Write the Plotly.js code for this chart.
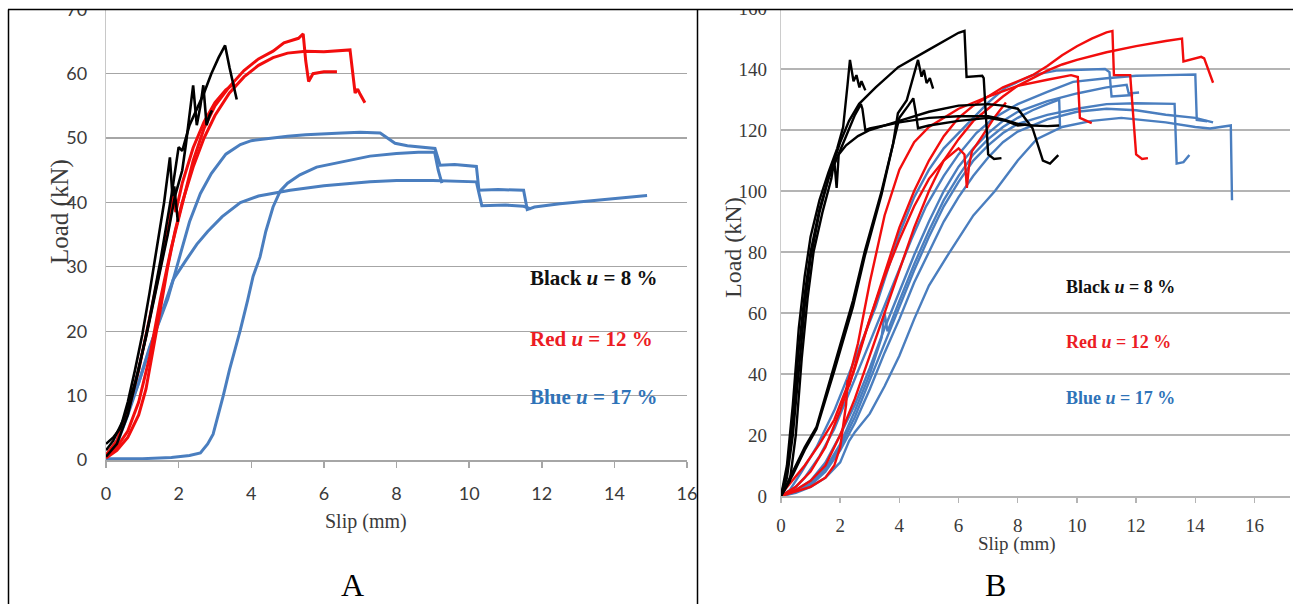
<!DOCTYPE html>
<html>
<head>
<meta charset="utf-8">
<script src="https://cdn.plot.ly/plotly-3.0.1.min.js"></script>
<style>
  html, body { margin: 0; padding: 0; background: #fff; }
  #chart { width: 1293px; height: 604px; }
</style>
</head>
<body>
<div id="chart"></div>
<script>
// ---------------- Panel A data (Slip mm, Load kN) ----------------
const A_K1 = [[0,2.5],[0.2,3.5],[0.4,5],[0.6,9],[0.8,14],[1.0,19.5],[1.2,26],[1.4,33],[1.6,40],[1.76,47],[1.83,41],[1.88,42.5],[1.98,37]];
const A_K2 = [[0,1.5],[0.2,3],[0.5,6.5],[0.8,12],[1.1,19],[1.4,27],[1.7,35],[1.9,41],[2.1,45],[2.2,49],[2.3,54],[2.4,58.2],[2.5,52],[2.6,55],[2.68,58.2],[2.77,52],[2.85,53.5],[2.92,54.3]];
const A_K3 = [[0,0.5],[0.3,2.5],[0.6,7],[0.9,14],[1.2,22],[1.5,31],[1.8,41],[2.0,48.6],[2.1,48],[2.3,52],[2.5,54.5],[2.7,57],[2.9,60],[3.1,62.5],[3.28,64.4],[3.4,61],[3.6,56]];
const A_R1 = [[0,0.3],[0.3,1.5],[0.6,3.5],[0.9,7],[1.1,11],[1.3,17],[1.5,23.5],[1.7,30],[1.9,35.5],[2.1,40],[2.4,45.5],[2.7,50],[3.0,53.5],[3.4,57],[3.8,59.5],[4.2,61.3],[4.6,62.5],[5.0,63.2],[5.5,63.5],[6.0,63.4],[6.4,63.6],[6.72,63.7],[6.86,57],[6.93,57.6],[7.0,56.8],[7.13,55.5]];
const A_R2 = [[0,0.5],[0.3,2],[0.6,4.5],[0.9,9],[1.2,16],[1.5,25],[1.8,33],[2.1,40],[2.4,46.5],[2.7,51.5],[3.0,55],[3.4,58],[3.8,60.5],[4.2,62.3],[4.6,63.5],[4.9,64.8],[5.1,65.2],[5.3,65.5],[5.43,66.2],[5.5,62],[5.58,58.8],[5.7,60],[6.0,60.3],[6.36,60.3]];
const A_R3 = [[0,0.8],[0.3,3],[0.6,7.5],[0.9,14],[1.2,22],[1.5,30],[1.75,37],[1.85,41.5],[1.92,38.5],[2.1,43],[2.4,48.5],[2.7,52.5],[3.0,55.5],[3.3,57.5],[3.55,58.5]];
const A_B1 = [[0,0.3],[0.3,2.5],[0.6,7],[0.9,12],[1.2,17.5],[1.5,22],[1.7,25],[1.9,29],[2.1,33],[2.3,37],[2.6,41.4],[2.9,44.5],[3.3,47.5],[3.7,49],[4.0,49.6],[4.5,50],[5.0,50.3],[5.5,50.5],[6.0,50.7],[6.5,50.8],[7.0,50.9],[7.55,50.8],[7.7,50.2],[7.96,49.2],[8.3,48.8],[8.7,48.6],[9.06,48.4],[9.2,45.8],[9.6,45.9],[10.2,45.6],[10.27,41.9],[10.8,42],[11.5,41.9],[11.6,38.9],[11.8,39.3],[12.5,39.8],[13.2,40.2],[14,40.6],[14.9,41.1]];
const A_B2 = [[0,0.2],[1,0.2],[1.8,0.4],[2.3,0.7],[2.6,1.1],[2.8,2.5],[2.95,4],[3.1,7],[3.23,10],[3.4,14],[3.55,17],[3.7,20.2],[3.9,24.8],[4.05,28.5],[4.24,31.5],[4.4,35.5],[4.6,39.3],[4.8,41.8],[5.0,43],[5.34,44.3],[5.8,45.5],[6.45,46.3],[7.27,47.2],[8,47.6],[8.6,47.8],[9.05,47.8],[9.15,45],[9.25,43]];
const A_B3 = [[0,0.3],[0.3,3],[0.6,7.5],[0.9,12],[1.3,19],[1.6,24],[1.85,28],[2.2,31],[2.5,33.5],[2.8,35.5],[3.2,37.8],[3.7,40],[4.2,41],[5.07,41.9],[6,42.6],[7.27,43.2],[8,43.4],[9,43.4],[9.6,43.3],[10.2,43.2],[10.35,39.5],[11,39.6],[11.5,39.4],[11.7,39]];

// ---------------- Panel B data ----------------
const B_K1 = [[0,0],[0.2,10],[0.4,30],[0.6,55],[0.8,72],[1.0,85],[1.3,97],[1.6,106],[1.9,114],[2.1,121],[2.25,135],[2.33,143],[2.45,136],[2.55,138],[2.65,134],[2.72,136],[2.85,133]];
const B_K2 = [[0,0],[0.2,8],[0.4,25],[0.6,48],[0.8,66],[1.0,80],[1.3,94],[1.6,104],[1.9,111],[2.2,118],[2.5,125],[2.7,128.5],[2.75,127],[2.85,120],[3.0,120.5],[3.5,121.5],[4,122.5],[5,124],[6,124.5],[7,124.5],[7.5,123.5],[8,122],[8.5,121.5],[9,121.3],[9.4,121.5]];
const B_K3 = [[0,0],[0.2,6],[0.4,20],[0.6,42],[0.8,62],[1.0,78],[1.3,93],[1.6,104],[2.0,116],[2.3,123],[2.64,128.6],[3.2,134],[3.96,140.6],[4.97,146.2],[6.0,151.9],[6.2,152.5],[6.27,137.4],[6.8,137.8],[6.85,137],[7.0,112],[7.2,110.5],[7.45,110.8]];
const B_K4 = [[0,0],[0.3,5],[0.5,20],[0.7,45],[0.9,65],[1.1,80],[1.4,93],[1.7,104],[1.8,110],[1.88,101],[1.95,112],[2.2,115],[2.6,118],[3,120],[4,123],[5,126],[6,128],[7,128.5],[7.5,128],[8,127],[8.5,120.6],[8.85,110],[9.09,109],[9.37,111.8]];
const B_K5 = [[0,0],[0.4,8],[0.8,16],[1.2,22.7],[1.8,43],[2.43,64],[2.84,80.6],[2.99,86],[3.4,100],[3.79,115.6],[3.95,125.5],[4.25,129.8],[4.47,137.5],[4.63,143],[4.75,137.5],[4.83,139.7],[4.92,135.4],[5.03,137],[5.14,133.6]];
const B_K6 = [[0,0],[0.4,7],[0.8,15],[1.2,22],[1.8,41],[2.43,62],[2.84,79],[3.4,99],[3.8,116],[4.0,124],[4.3,128],[4.47,130.4],[4.55,126],[4.63,120.6],[5,121.5],[6,123],[7,124],[7.6,123],[8,121.5],[8.3,121.8]];
const B_R1 = [[0,0],[0.5,3],[1,8],[1.5,16],[2,28],[2.5,42],[3,58],[3.5,73],[4,88],[4.5,100],[5,110],[5.5,118],[6,124],[6.5,128],[7,131],[7.5,134],[8,136],[8.5,138],[9,141],[9.5,144.5],[10,147.5],[10.5,150],[11,152],[11.2,152.5],[11.25,138],[11.8,138],[12,112],[12.2,110.5],[12.4,110.8]];
const B_R2 = [[0,0],[0.5,2],[1,5],[1.5,10],[2,20],[2.5,32],[3,46],[3.5,60],[4,74],[4.5,88],[5,100],[5.5,110],[6,117],[6.5,123],[7,127],[7.5,131],[8,134.5],[8.5,137],[9,139.5],[9.5,141.5],[10,143],[11,145.5],[12,147.5],[13,149.2],[13.55,150],[13.6,142.5],[14.2,144],[14.3,143.5],[14.6,135.5]];
const B_R3 = [[0,0.5],[0.3,4],[0.8,10],[1.3,17],[1.8,25],[2.2,35],[2.6,50],[3.0,70],[3.5,92],[4,107],[4.5,116],[5,121],[6,127],[7,131],[8,134.5],[9,136.5],[9.8,138],[10.03,137.4],[10.1,124],[10.5,122.3]];
const B_R4 = [[0,0],[0.5,1.5],[1,3],[1.5,6],[1.8,10],[2.0,16],[2.2,30],[2.25,38],[2.3,36],[2.6,46],[3,58],[3.5,72],[4,84],[4.5,95],[5,104],[5.5,110],[6.0,114],[6.2,112],[6.28,101],[6.35,108],[6.45,113],[6.8,118],[7.2,124],[7.6,129]];
const B_B1 = [[0,0],[0.3,2],[0.7,8],[1.2,16],[1.8,28],[2.3,40],[2.8,52],[3.2,62],[3.6,74],[4.0,86],[4.5,98],[5.0,107],[5.5,114],[6.0,119],[6.5,124],[7.0,129],[7.6,134],[8.5,138],[9.3,139.5],[10.2,139.8],[10.95,140],[11.1,139],[11.17,131],[11.9,131.5]];
const B_B2 = [[0,0],[0.4,2],[0.8,6],[1.3,13],[1.8,22],[2.4,36],[2.9,48],[3.4,60],[3.9,72],[4.4,84],[4.9,95],[5.5,105],[6.0,112],[6.6,119],[7.2,124],[8,128.5],[9,132.5],[9.87,135.8],[11,137],[12,137.8],[13,138],[14.0,138.2],[14.05,123.3],[14.4,122.9]];
const B_B3 = [[0,0],[0.5,2],[1,5],[1.5,11],[2,20],[2.5,30],[3,42],[3.5,55],[4,67],[4.5,79],[5,90],[5.5,100],[6,108],[6.5,114],[7,119],[7.5,123],[8,126],[9,129.5],[10,132],[11,134],[11.68,134.8],[11.75,132],[12.1,132.3]];
const B_B4 = [[0,0],[0.5,1.5],[1,4],[1.5,9],[2,16],[2.5,26],[3,38],[3.5,50],[4,62],[4.5,74],[5,85],[5.5,95],[6,103],[6.5,110],[7,115],[7.5,119],[8,122],[9,125],[10,127],[11,128.5],[12,128.8],[13.3,128.6],[13.37,109],[13.6,109.5],[13.8,111.8]];
const B_B5 = [[0,0],[0.5,1.5],[1,4],[1.5,9],[2,17],[2.5,28],[3,40],[3.4,52],[3.5,60],[3.6,54],[4,64],[4.5,76],[5,87],[5.5,97],[6,105],[6.5,112],[7,117],[7.5,121],[8,124],[8.5,126.5],[9,128.5],[9.4,130],[9.43,120.6]];
const B_B6 = [[0,0],[0.5,1],[1,3],[1.5,6],[2,11],[2.3,18],[2.5,21],[3,27],[3.5,36],[4,46],[4.5,58],[5,69],[5.7,80],[6.5,92],[7.23,100],[8,110],[8.64,117],[9.5,121],[10.5,123],[11.5,124],[12.5,123],[13,122.5],[14,121],[14.5,120.5],[15.2,121.5],[15.24,97]];
const B_B7 = [[0,0],[0.4,1],[1,3.5],[1.5,8],[2,15],[2.5,24],[3,35],[3.5,47],[4,58],[4.5,70],[5,80],[5.5,90],[6,98],[6.5,105],[7,111],[7.5,116],[8,119.5],[9,123.5],[10,126],[11,127],[12,126.5],[13,125],[14,124],[14.4,123],[14.6,122.5]];

const xTicksA = [0,2,4,6,8,10,12,14,16];
const yTicksA = [0,10,20,30,40,50,60,70];
const xTicksB = [0,2,4,6,8,10,12,14,16];
const yTicksB = [0,20,40,60,80,100,120,140,160];

const BLACK = '#000000', RED = '#f20d0d', BLUE = '#4a7ebf';

function tr(pts, color, width, xa, ya) {
  return {
    x: pts.map(p => p[0]), y: pts.map(p => p[1]),
    type: 'scatter', mode: 'lines', xaxis: xa, yaxis: ya,
    line: {color: color, width: width}, hoverinfo: 'skip', showlegend: false
  };
}

const W = 1293, H = 604;
const px = v => v / W, py = v => 1 - v / H;

const traces = [];
[A_B1, A_B2, A_B3].forEach(d => traces.push(tr(d, BLUE, 3, 'x', 'y')));
[A_R1, A_R2, A_R3].forEach(d => traces.push(tr(d, RED, 3, 'x', 'y')));
[A_K1, A_K2, A_K3].forEach(d => traces.push(tr(d, BLACK, 2.6, 'x', 'y')));
[B_B1, B_B2, B_B3, B_B4, B_B5, B_B6, B_B7].forEach(d => traces.push(tr(d, BLUE, 2.4, 'x2', 'y2')));
[B_R1, B_R2, B_R3, B_R4].forEach(d => traces.push(tr(d, RED, 2.4, 'x2', 'y2')));
[B_K1, B_K2, B_K3, B_K4, B_K5, B_K6].forEach(d => traces.push(tr(d, BLACK, 2.4, 'x2', 'y2')));

const sansTick = {family: 'Lato, "Liberation Sans Narrow", sans-serif', size: 18, color: '#3a3a3a'};
const serifTick = {family: '"Liberation Serif", "DejaVu Serif", serif', size: 19, color: '#3a3a3a'};
const serif = '"Liberation Serif", "DejaVu Serif", serif';

const layout = {
  width: W, height: H,
  margin: {l: 0, r: 0, t: 0, b: 0, pad: 0},
  paper_bgcolor: '#ffffff', plot_bgcolor: 'rgba(0,0,0,0)',
  showlegend: false,
  xaxis: {
    domain: [px(106), px(687)], range: [0, 16], tickvals: xTicksA, anchor: 'y',
    showgrid: false, zeroline: false, showline: true, linecolor: '#a6a6a6', linewidth: 1.5,
    ticks: 'outside', ticklen: 6, tickcolor: '#a6a6a6', tickwidth: 1.5,
    tickfont: sansTick, ticklabelstandoff: 11, ticklabeloverflow: 'allow'
  },
  yaxis: {
    domain: [py(460), py(9.2)], range: [0, 70.02], tickvals: yTicksA, anchor: 'x',
    showgrid: true, gridcolor: '#a6a6a6', gridwidth: 1.2, zeroline: false,
    showline: true, linecolor: '#c8c8c8', linewidth: 1.2,
    ticks: '', tickfont: sansTick, ticklabelstandoff: 14, ticklabeloverflow: 'allow'
  },
  xaxis2: {
    domain: [px(781), px(1290)], range: [0, 17.2], tickvals: xTicksB, anchor: 'y2',
    showgrid: false, zeroline: false, showline: true, linecolor: '#b4b4b4', linewidth: 1.5,
    ticks: 'outside', ticklen: 5, tickcolor: '#b4b4b4', tickwidth: 1.5,
    tickfont: serifTick, ticklabelstandoff: 7, ticklabeloverflow: 'allow'
  },
  yaxis2: {
    domain: [py(496), py(8)], range: [0, 160.02], tickvals: yTicksB, anchor: 'x2',
    showgrid: true, gridcolor: '#b4b4b4', gridwidth: 1.6, zeroline: false,
    showline: true, linecolor: '#cccccc', linewidth: 1.2,
    ticks: '', tickfont: serifTick, ticklabelstandoff: 9, ticklabeloverflow: 'allow'
  },
  shapes: [
    {type: 'rect', xref: 'paper', yref: 'paper', x0: 0, x1: 1, y0: py(9), y1: 1,
     fillcolor: '#ffffff', line: {width: 0}, layer: 'above'},
    {type: 'line', xref: 'paper', yref: 'paper', x0: px(8), x1: 1, y0: py(9.5), y1: py(9.5),
     line: {color: '#000000', width: 1.5}, layer: 'above'},
    {type: 'line', xref: 'paper', yref: 'paper', x0: px(8.5), x1: px(8.5), y0: py(9.5), y1: 0,
     line: {color: '#000000', width: 1.5}, layer: 'above'},
    {type: 'line', xref: 'paper', yref: 'paper', x0: px(697.5), x1: px(697.5), y0: py(9.5), y1: 0,
     line: {color: '#000000', width: 1.5}, layer: 'above'}
  ],
  annotations: [
    // Panel A axis titles
    {xref: 'paper', yref: 'paper', x: px(366), y: py(521), text: 'Slip (mm)', showarrow: false,
     font: {family: serif, size: 20, color: '#3a3a3a'}, xanchor: 'center', yanchor: 'middle'},
    {xref: 'paper', yref: 'paper', x: px(60), y: py(212), text: 'Load (kN)', showarrow: false, textangle: -90,
     font: {family: serif, size: 25, color: '#3a3a3a'}, xanchor: 'center', yanchor: 'middle'},
    // Panel A legend texts
    {xref: 'paper', yref: 'paper', x: px(528), y: py(278), text: '<b>Black <i>u</i> = 8 %</b>', showarrow: false,
     font: {family: serif, size: 21, color: '#111111'}, xanchor: 'left', yanchor: 'middle'},
    {xref: 'paper', yref: 'paper', x: px(528), y: py(339), text: '<b>Red <i>u</i> = 12 %</b>', showarrow: false,
     font: {family: serif, size: 21, color: '#ec1c24'}, xanchor: 'left', yanchor: 'middle'},
    {xref: 'paper', yref: 'paper', x: px(528), y: py(397), text: '<b>Blue <i>u</i> = 17 %</b>', showarrow: false,
     font: {family: serif, size: 21, color: '#2f73b8'}, xanchor: 'left', yanchor: 'middle'},
    // Panel B axis titles
    {xref: 'paper', yref: 'paper', x: px(1017), y: py(544), text: 'Slip (mm)', showarrow: false,
     font: {family: serif, size: 19, color: '#3a3a3a'}, xanchor: 'center', yanchor: 'middle'},
    {xref: 'paper', yref: 'paper', x: px(733), y: py(248), text: 'Load (kN)', showarrow: false, textangle: -90,
     font: {family: serif, size: 24, color: '#3a3a3a'}, xanchor: 'center', yanchor: 'middle'},
    // Panel B legend texts
    {xref: 'paper', yref: 'paper', x: px(1064), y: py(287), text: '<b>Black <i>u</i> = 8 %</b>', showarrow: false,
     font: {family: serif, size: 18, color: '#111111'}, xanchor: 'left', yanchor: 'middle'},
    {xref: 'paper', yref: 'paper', x: px(1064), y: py(342), text: '<b>Red <i>u</i> = 12 %</b>', showarrow: false,
     font: {family: serif, size: 18, color: '#ec1c24'}, xanchor: 'left', yanchor: 'middle'},
    {xref: 'paper', yref: 'paper', x: px(1064), y: py(398), text: '<b>Blue <i>u</i> = 17 %</b>', showarrow: false,
     font: {family: serif, size: 18, color: '#2f73b8'}, xanchor: 'left', yanchor: 'middle'},
    // Panel letters
    {xref: 'paper', yref: 'paper', x: px(352), y: py(585), text: 'A', showarrow: false,
     font: {family: serif, size: 32, color: '#000000'}, xanchor: 'center', yanchor: 'middle'},
    {xref: 'paper', yref: 'paper', x: px(995), y: py(585), text: 'B', showarrow: false,
     font: {family: serif, size: 32, color: '#000000'}, xanchor: 'center', yanchor: 'middle'}
  ]
};

Plotly.newPlot('chart', traces, layout, {staticPlot: true, displayModeBar: false});
</script>
</body>
</html>
